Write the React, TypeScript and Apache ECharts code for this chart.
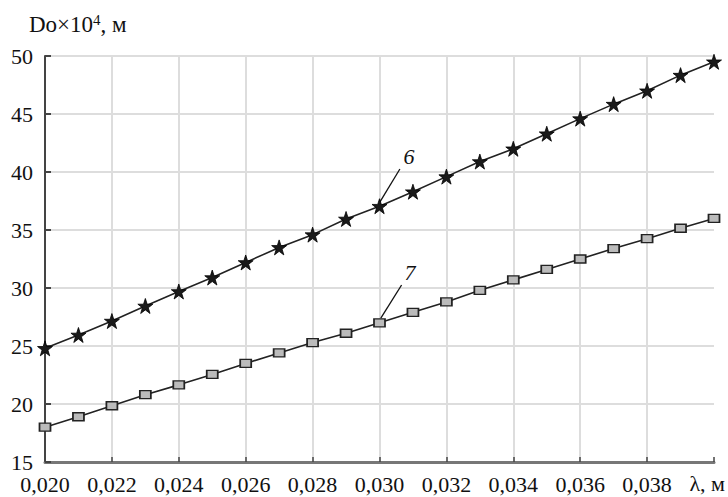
import React, { useEffect, useRef } from "react";
import * as echarts from "echarts";

const lambdaValues = [0.020, 0.021, 0.022, 0.023, 0.024, 0.025, 0.026, 0.027, 0.028, 0.029, 0.030, 0.031, 0.032, 0.033, 0.034, 0.035, 0.036, 0.037, 0.038, 0.039, 0.040];
const series6 = [24.8, 25.95, 27.15, 28.45, 29.7, 30.9, 32.2, 33.5, 34.6, 35.95, 37.05, 38.3, 39.6, 40.9, 42.0, 43.3, 44.6, 45.85, 47.0, 48.35, 49.5];
const series7 = [18.0, 18.9, 19.85, 20.8, 21.65, 22.55, 23.5, 24.4, 25.3, 26.1, 27.0, 27.9, 28.8, 29.8, 30.7, 31.6, 32.5, 33.4, 34.25, 35.15, 36.0];

const FONT = "Liberation Serif";

const STAR = "path://M50,0 L61.8,35.3 L98.9,35.3 L69,57.3 L80.4,92.7 L50,70.7 L19.6,92.7 L31,57.3 L1.1,35.3 L38.2,35.3 Z";

// annotation anchors in data coordinates: [text pos, line top, line bottom]
const annotations = [
  { label: "6", text: [0.03088, 41.3], from: [0.03061, 40.26], to: [0.03001, 37.4] },
  { label: "7", text: [0.03091, 31.3], from: [0.03066, 30.26], to: [0.03004, 27.4] },
];

export default function App() {
  const ref = useRef<HTMLDivElement>(null);
  useEffect(() => {
    if (!ref.current) return;
    const chart = echarts.init(ref.current, null, { renderer: "svg" });
    const d6 = lambdaValues.map((x, i) => [x, series6[i]]);
    const d7 = lambdaValues.map((x, i) => [x, series7[i]]);
    chart.setOption({
      animation: false,
      backgroundColor: "#fff",
      textStyle: { fontFamily: FONT },
      title: {
        text: "Do×10{sup|4}, м",
        left: 29,
        top: 12,
        padding: 0,
        textStyle: {
          fontFamily: FONT,
          fontSize: 23,
          fontWeight: "normal",
          color: "#111",
          rich: {
            sup: { fontFamily: FONT, fontSize: 15, color: "#111", verticalAlign: "top", padding: [0, 0, 10, 0] },
          },
        },
      },
      grid: { left: 45, right: 14, top: 56, bottom: 35, containLabel: false },
      xAxis: {
        type: "value",
        min: 0.02,
        max: 0.04,
        interval: 0.002,
        axisLine: { show: true, onZero: false, lineStyle: { color: "#777", width: 3 } },
        axisTick: { show: true, inside: true, length: 5, lineStyle: { color: "#444", width: 1.5 } },
        axisLabel: {
          color: "#111",
          fontSize: 22,
          fontFamily: FONT,
          margin: 11,
          showMaxLabel: true,
          formatter: (v: number) => (v > 0.0395 ? "" : v.toFixed(3).replace(".", ",")),
        },
        splitLine: { show: true, showMinLine: false, showMaxLine: false, lineStyle: { color: "#ddd", width: 2 } },
      },
      yAxis: {
        type: "value",
        min: 15,
        max: 50,
        interval: 5,
        axisLine: { show: true, lineStyle: { color: "#444", width: 2 } },
        axisTick: { show: true, inside: true, length: 6, lineStyle: { color: "#444", width: 2 } },
        axisLabel: { color: "#111", fontSize: 22, fontFamily: FONT, margin: 12 },
        splitLine: { show: true, showMinLine: false, lineStyle: { color: "#ddd", width: 2 } },
      },
      series: [
        {
          type: "line",
          data: d6,
          symbol: STAR,
          symbolSize: 15,
          itemStyle: { color: "#1a1a1a", borderColor: "#000", borderWidth: 0.8 },
          lineStyle: { color: "#222", width: 1.6 },
        },
        {
          type: "line",
          data: d7,
          symbol: "rect",
          symbolSize: [11, 8],
          itemStyle: { color: "#bbb", borderColor: "#222", borderWidth: 1.5 },
          lineStyle: { color: "#222", width: 1.6 },
        },
      ],
    });

    const toPx = (p: number[]) => chart.convertToPixel({ gridIndex: 0 }, p) as number[];
    const graphics: any[] = [
      {
        type: "text",
        x: 725,
        y: 494,
        style: { text: "λ, м", fontFamily: FONT, fontSize: 22, fill: "#111", align: "right", verticalAlign: "bottom" },
      },
    ];
    annotations.forEach((a) => {
      const t = toPx(a.text);
      const f = toPx(a.from);
      const e = toPx(a.to);
      graphics.push({
        type: "line",
        shape: { x1: f[0], y1: f[1], x2: e[0], y2: e[1] },
        style: { stroke: "#111", lineWidth: 1.3 },
      });
      graphics.push({
        type: "text",
        x: t[0],
        y: t[1],
        style: { text: a.label, fontFamily: FONT, fontSize: 22, fontStyle: "italic", fill: "#111", align: "center", verticalAlign: "middle" },
      });
    });
    chart.setOption({ graphic: graphics });
    return () => chart.dispose();
  }, []);
  return <div ref={ref} style={{ width: 728, height: 497, position: "absolute", left: 0, top: 0 }} />;
}
